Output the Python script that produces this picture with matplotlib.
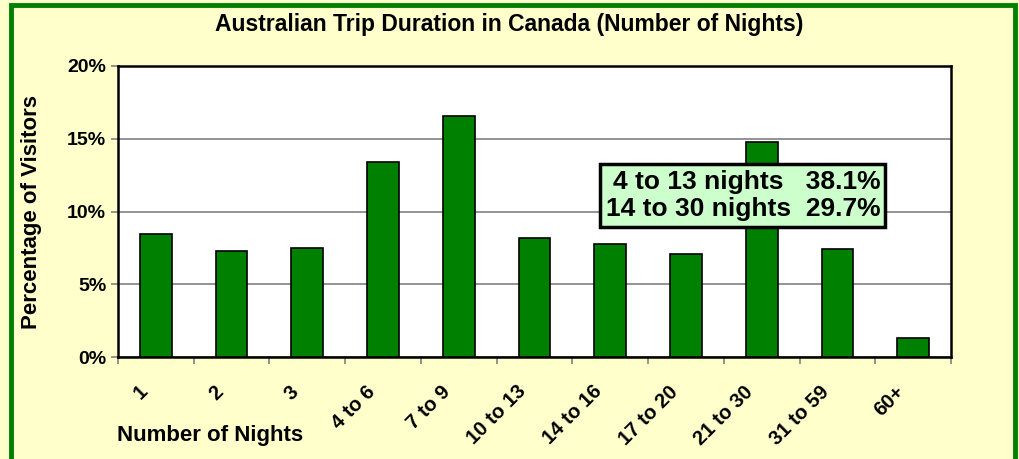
import matplotlib.pyplot as plt
from matplotlib.patches import Rectangle
from matplotlib.ticker import FuncFormatter, MultipleLocator
from matplotlib.transforms import ScaledTranslation

plt.rcParams['font.family'] = ['Liberation Sans', 'DejaVu Sans']
plt.rcParams['font.weight'] = 'bold'

categories = ['1', '2', '3', '4 to 6', '7 to 9', '10 to 13', '14 to 16',
              '17 to 20', '21 to 30', '31 to 59', '60+']
shares = [8.45, 7.3, 7.5, 13.4, 16.55, 8.2, 7.8, 7.1, 14.8, 7.4, 1.3]
box_lines = ['4 to 13 nights   38.1%', '14 to 30 nights  29.7%']

fig = plt.figure(figsize=(10.19, 4.59), dpi=100, facecolor='#FFFFCC')
# green frame around the figure (bottom edge cut off in the original)
fig.patches.append(Rectangle((0.011, -0.02), 0.985, 1.01, transform=fig.transFigure,
                             fill=False, edgecolor='#008000', linewidth=3.5))

ax = fig.add_axes([118/1019, 1 - 357/459, (951-118)/1019, (357-66)/459])
ax.set_facecolor('white')
x = range(len(categories))
ax.bar(x, shares, width=0.42, color='#008000', edgecolor='black', linewidth=1.2, zorder=3)
ax.set_xlim(-0.5, len(categories) - 0.5)
ax.set_ylim(0, 20)
ax.yaxis.set_major_locator(MultipleLocator(5))
ax.yaxis.set_major_formatter(FuncFormatter(lambda v, p: f'{v:.0f}%'))
ax.grid(axis='y', color='#808080', linewidth=1.2, zorder=1)
for s in ax.spines.values():
    s.set_color('black')
    s.set_linewidth(1.8)

ax.set_xticks([i - 0.5 for i in range(len(categories) + 1)], minor=False)
ax.set_xticklabels([])
ax.set_xticks(list(x), minor=True)
ax.set_xticklabels(categories, minor=True, rotation=45, ha='right', va='top',
                   rotation_mode='anchor', fontsize=14.5, fontweight='bold')
ax.tick_params(axis='x', which='minor', length=0, pad=18)
ax.tick_params(axis='x', which='major', length=5, color='#808080', width=1.2)
ax.tick_params(axis='y', length=5, color='#808080', width=1.2, labelsize=14)
for lab in ax.get_yticklabels():
    lab.set_fontweight('bold')
# labels sit a little left of the bar centres, as in the original
shift = ScaledTranslation(-18/100, 0, fig.dpi_scale_trans)
for lab in ax.get_xticklabels(minor=True):
    lab.set_transform(lab.get_transform() + shift)

fig.text(0.5, 1 - 25/459, 'Australian Trip Duration in Canada (Number of Nights)',
         ha='center', va='center', fontsize=16.5, fontweight='bold')
fig.text(32/1019, 1 - 212/459, 'Percentage of Visitors', rotation=90,
         ha='center', va='center', fontsize=16, fontweight='bold')
fig.text(210/1019, 1 - 436/459, 'Number of Nights', ha='center', va='center',
         fontsize=16, fontweight='bold')

ax.text(0.915, 0.555, '\n'.join(box_lines), transform=ax.transAxes, ha='right', va='center',
        fontsize=19, fontweight='bold', linespacing=1.2, zorder=5,
        bbox=dict(boxstyle='square,pad=0.2', facecolor='#CCFFCC', edgecolor='black', linewidth=2.5))

fig.savefig('out.png', dpi=100, facecolor=fig.get_facecolor())
